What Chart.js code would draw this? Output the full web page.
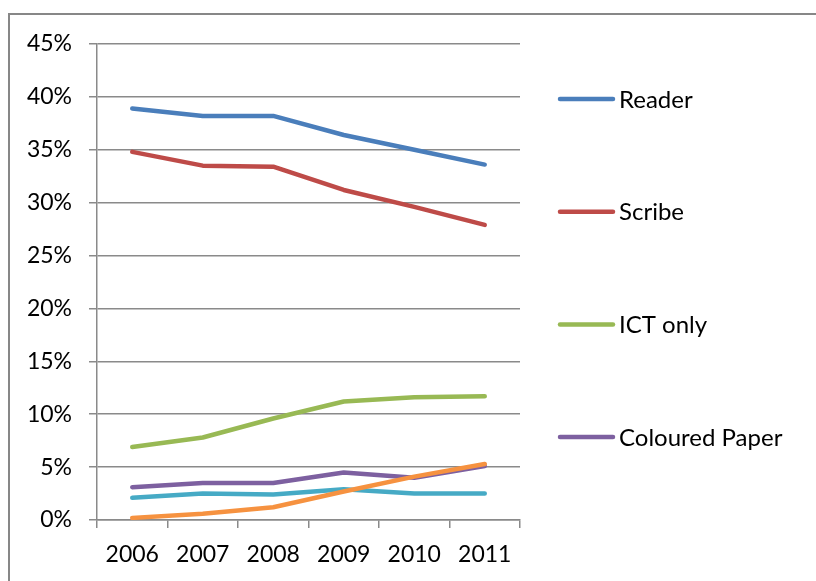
<!DOCTYPE html>
<html>
<head>
<meta charset="utf-8">
<script src="https://cdn.jsdelivr.net/npm/chart.js@4.4.1/dist/chart.umd.min.js"></script>
<style>
  html, body { margin: 0; padding: 0; background: #fff; }
  #wrap { position: relative; width: 816px; height: 581px; overflow: hidden; }
  #frame {
    position: absolute; left: 8px; top: 13px; width: 900px; height: 700px;
    border-left: 2px solid #878787; border-top: 2px solid #878787;
  }
  #c { position: absolute; left: 0; top: 0; }
</style>
</head>
<body>
<div id="wrap">
  <div id="frame"></div>
  <canvas id="c" width="816" height="581"></canvas>
</div>
<script>
// Share of access arrangements by type, 2006-2011 (percent)
const years = ['2006', '2007', '2008', '2009', '2010', '2011'];
const reader = [38.9, 38.2, 38.2, 36.4, 35.0, 33.6];
const scribe = [34.8, 33.5, 33.4, 31.2, 29.6, 27.9];
const ictOnly = [6.9, 7.8, 9.6, 11.2, 11.6, 11.7];
const colouredPaper = [3.1, 3.5, 3.5, 4.5, 4.0, 5.1];
const seriesFive = [2.1, 2.5, 2.4, 2.9, 2.5, 2.5];
const seriesSix = [0.2, 0.6, 1.2, 2.7, 4.1, 5.3];
const yTicks = [0, 5, 10, 15, 20, 25, 30, 35, 40, 45];

const FONT = 'Lato, "Open Sans", sans-serif';
const GRID = '#8a8a8a';

function series(label, data, color, order, inLegend) {
  return {
    label, data, order,
    borderColor: color, backgroundColor: color,
    borderWidth: 4.5, borderCapStyle: 'round', borderJoinStyle: 'round',
    pointRadius: 0, pointHoverRadius: 0, tension: 0, fill: false,
    inLegend
  };
}

// Legend drawn at the right, with widely spaced entries
const sideLegend = {
  id: 'sideLegend',
  afterDraw(chart, args, opts) {
    const ctx = chart.ctx;
    const items = chart.data.datasets.filter(d => d.inLegend);
    ctx.save();
    ctx.font = `${opts.size}px ${FONT}`;
    ctx.textBaseline = 'middle';
    ctx.textAlign = 'left';
    items.forEach((d, i) => {
      const y = opts.y0 + i * opts.step;
      ctx.strokeStyle = d.borderColor;
      ctx.lineWidth = 4.5;
      ctx.lineCap = 'round';
      ctx.beginPath();
      ctx.moveTo(opts.x, y);
      ctx.lineTo(opts.x + opts.len, y);
      ctx.stroke();
      ctx.fillStyle = '#000';
      ctx.fillText(d.label, opts.x + opts.len + 6, y + 1);
    });
    ctx.restore();
  }
};

new Chart(document.getElementById('c'), {
  type: 'line',
  data: {
    labels: years,
    datasets: [
      series('Reader', reader, '#4A7EBB', 6, true),
      series('Scribe', scribe, '#BE4B48', 5, true),
      series('ICT only', ictOnly, '#98B954', 4, true),
      series('Coloured Paper', colouredPaper, '#7D60A0', 3, true),
      series('Series 5', seriesFive, '#46AAC5', 2, false),
      series('Series 6', seriesSix, '#F69240', 1, false)
    ]
  },
  options: {
    responsive: false,
    animation: false,
    events: [],
    layout: { padding: { top: 44, left: 0, right: 296, bottom: 0 } },
    plugins: {
      legend: { display: false },
      tooltip: { enabled: false },
      sideLegend: { x: 560, y0: 99, step: 112.7, len: 53, size: 24 }
    },
    scales: {
      x: {
        offset: true,
        grid: { offset: true, drawOnChartArea: false, drawTicks: true, tickLength: 8, color: GRID, lineWidth: 1.5 },
        border: { display: true, color: GRID, width: 1.5 },
        ticks: { color: '#000', font: { family: FONT, size: 23 }, padding: 13, maxRotation: 0, autoSkip: false },
        afterFit(s) { s.height = 61; }
      },
      y: {
        min: 0, max: 45,
        afterBuildTicks(s) { s.ticks = yTicks.map(v => ({ value: v })); },
        grid: { drawTicks: true, tickLength: 8, color: GRID, lineWidth: 1.5 },
        border: { display: true, color: GRID, width: 1.5 },
        ticks: { color: '#000', font: { family: FONT, size: 23 }, padding: 17, callback: v => v + '%' },
        afterFit(s) { s.width = 97; }
      }
    }
  },
  plugins: [sideLegend]
});
</script>
</body>
</html>
